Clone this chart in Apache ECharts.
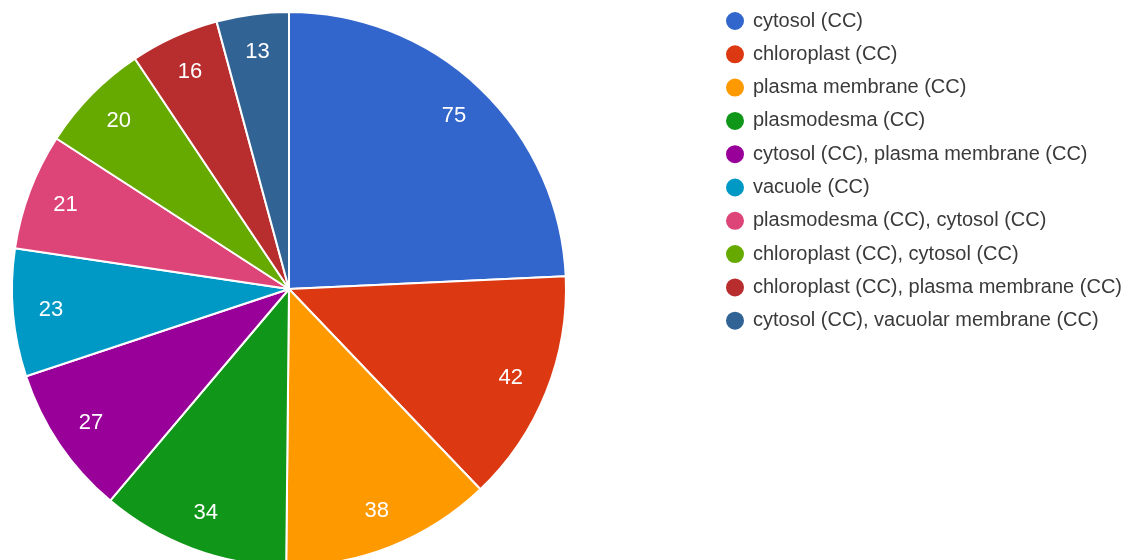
<!DOCTYPE html>
<html>
<head>
<meta charset="utf-8">
<script src="https://cdn.jsdelivr.net/npm/echarts@6/dist/echarts.min.js"></script>
<style>
  html, body { margin: 0; padding: 0; background: #ffffff; }
  #chart { width: 1133px; height: 560px; }
</style>
</head>
<body>
<div id="chart"></div>
<script>
// Cellular component annotation counts
const categories = [
  'cytosol (CC)',
  'chloroplast (CC)',
  'plasma membrane (CC)',
  'plasmodesma (CC)',
  'cytosol (CC), plasma membrane (CC)',
  'vacuole (CC)',
  'plasmodesma (CC), cytosol (CC)',
  'chloroplast (CC), cytosol (CC)',
  'chloroplast (CC), plasma membrane (CC)',
  'cytosol (CC), vacuolar membrane (CC)'
];
const counts = [75, 42, 38, 34, 27, 23, 21, 20, 16, 13];
const colors = ['#3366cc', '#dc3912', '#ff9900', '#109618', '#990099',
                '#0099c6', '#dd4477', '#66aa00', '#b82e2e', '#316395'];

const sliceData = categories.map((name, i) => ({ name, value: counts[i] }));

const center = [289, 289];
const outerR = 277;

const chart = echarts.init(document.getElementById('chart'), null, { renderer: 'canvas' });
chart.setOption({
  backgroundColor: '#ffffff',
  animation: false,
  color: colors,
  legend: {
    orient: 'vertical',
    left: 719,
    top: 5,
    icon: 'circle',
    itemWidth: 20,
    itemHeight: 20,
    itemGap: 11.3,
    data: categories,
    textStyle: {
      fontFamily: 'Liberation Sans, Arial, sans-serif',
      fontSize: 20,
      color: '#3a3a3a',
      padding: [0, 0, 0, 3]
    }
  },
  series: [
    {
      // filled slices
      type: 'pie',
      center: center,
      radius: outerR,
      startAngle: 90,
      clockwise: true,
      avoidLabelOverlap: false,
      itemStyle: { borderColor: '#ffffff', borderWidth: 2 },
      label: { show: false },
      labelLine: { show: false },
      emphasis: { disabled: true },
      data: sliceData
    },
    {
      // value labels placed near the rim
      type: 'pie',
      center: center,
      radius: [195, outerR],
      startAngle: 90,
      clockwise: true,
      silent: true,
      avoidLabelOverlap: false,
      itemStyle: { color: 'rgba(0,0,0,0)', borderWidth: 0 },
      label: {
        show: true,
        position: 'inside',
        formatter: '{c}',
        color: '#ffffff',
        fontFamily: 'Liberation Sans, Arial, sans-serif',
        fontSize: 22
      },
      labelLine: { show: false },
      emphasis: { disabled: true },
      data: sliceData
    }
  ]
});
</script>
</body>
</html>
